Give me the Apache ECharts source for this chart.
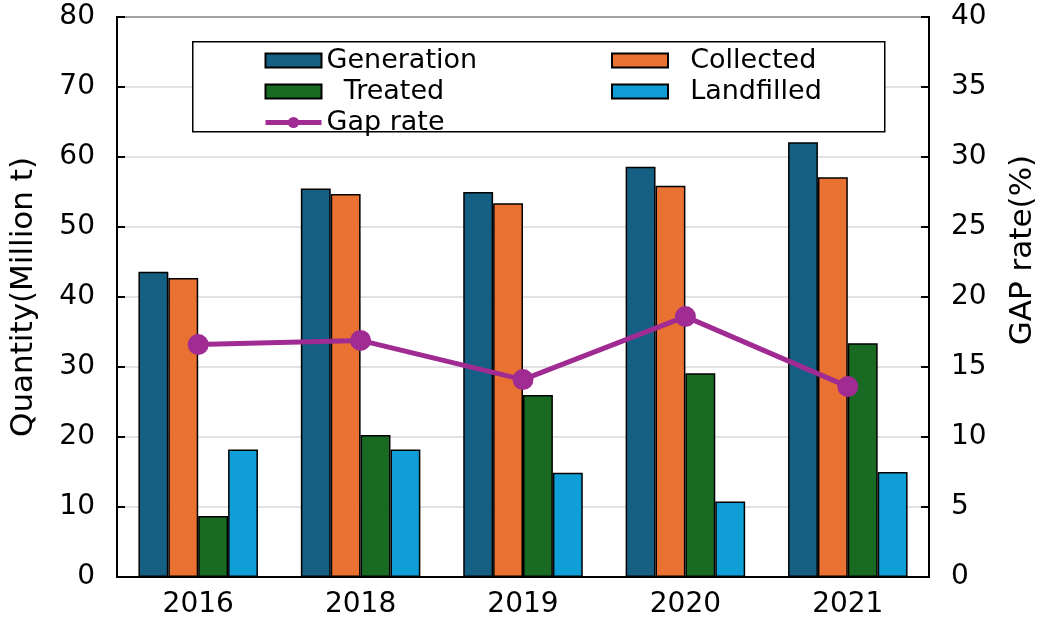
<!DOCTYPE html>
<html>
<head>
<meta charset="utf-8">
<script src="https://cdn.jsdelivr.net/npm/echarts@6/dist/echarts.min.js"></script>
<style>
  html, body { margin: 0; padding: 0; background: #fff; }
  #chart { width: 1046px; height: 620px; }
</style>
</head>
<body>
<div id="chart"></div>
<script>
// Datos
const years = ["2016", "2018", "2019", "2020", "2021"];
const generation = [43.6, 55.5, 55.0, 58.6, 62.1];
const collected = [42.7, 54.7, 53.4, 55.9, 57.1];
const treated = [8.7, 20.3, 26.0, 29.1, 33.4];
const landfilled = [18.2, 18.2, 14.9, 10.8, 15.0];
const gapRate = [16.6, 16.9, 14.1, 18.6, 13.6];

const FONT = "'DejaVu Sans', 'Noto Sans CJK JP', sans-serif";

const chart = echarts.init(document.getElementById("chart"));

function barSeries(name, data, color) {
  return {
    name: name,
    type: "bar",
    data: data,
    barWidth: "18.4%",
    barGap: "0%",
    itemStyle: { color: color, borderColor: "#000", borderWidth: 1.5 },
  };
}

const legendText = { color: "#000", fontSize: 27, fontFamily: FONT, lineHeight: 26 };

const option = {
  animation: false,
  backgroundColor: "#fff",
  grid: {
    left: 108, right: 95, top: 17, bottom: 43,
    show: true, borderColor: "#000", borderWidth: 2,
  },
  graphic: [
    {
      type: "rect",
      left: 192, top: 41,
      shape: { width: 692, height: 90 },
      style: { fill: "#fff", stroke: "#000", lineWidth: 1.5 },
      z: 10,
    },
  ],
  legend: [
    {
      orient: "vertical",
      left: 258, top: 42,
      itemWidth: 56, itemHeight: 14, itemGap: 4,
      data: [
        { name: "Generation", icon: "rect" },
        { name: "Treated", icon: "rect" },
        { name: "Gap rate", lineStyle: { width: 5 } },
      ],
      textStyle: legendText,
      formatter: function (name) {
        return name === "Treated" ? "  " + name : name;
      },
      z: 20,
    },
    {
      orient: "vertical",
      left: 606, top: 42,
      itemWidth: 56, itemHeight: 14, itemGap: 4,
      data: [
        { name: "Collected", icon: "rect" },
        { name: "Landfilled", icon: "rect" },
      ],
      textStyle: legendText,
      formatter: function (name) { return "  " + name; },
      z: 20,
    },
  ],
  xAxis: {
    type: "category",
    data: years,
    axisLine: { lineStyle: { color: "#000", width: 2 } },
    axisTick: { show: false },
    axisLabel: { color: "#000", fontSize: 28, fontFamily: FONT, margin: 14 },
  },
  yAxis: [
    {
      type: "value",
      min: 0, max: 80, interval: 10,
      name: "Quantity(Million t)",
      nameLocation: "middle",
      nameGap: 78,
      nameTextStyle: { color: "#000", fontSize: 31, fontFamily: FONT },
      axisLine: { show: true, lineStyle: { color: "#000", width: 2 } },
      axisTick: { show: true, inside: true, length: 8, lineStyle: { color: "#000", width: 2 } },
      axisLabel: { color: "#000", fontSize: 28, fontFamily: FONT, margin: 22 },
      splitLine: { lineStyle: { color: "#d9d9d9", width: 1.5 } },
    },
    {
      type: "value",
      min: 0, max: 40, interval: 5,
      name: "GAP rate(%)",
      nameLocation: "middle",
      nameGap: 78,
      nameRotate: 90,
      nameTextStyle: { color: "#000", fontSize: 31, fontFamily: FONT, padding: [0, 0, 0, 94] },
      axisLine: { show: true, lineStyle: { color: "#000", width: 2 } },
      axisTick: { show: true, inside: true, length: 8, lineStyle: { color: "#000", width: 2 } },
      axisLabel: { color: "#000", fontSize: 28, fontFamily: FONT, margin: 22 },
      splitLine: { show: false },
    },
  ],
  series: [
    barSeries("Generation", generation, "#156082"),
    barSeries("Collected", collected, "#E97132"),
    barSeries("Treated", treated, "#196B24"),
    barSeries("Landfilled", landfilled, "#0F9ED5"),
    {
      name: "Gap rate",
      type: "line",
      yAxisIndex: 1,
      data: gapRate,
      symbol: "circle",
      symbolSize: 21,
      lineStyle: { color: "#A02B93", width: 5 },
      itemStyle: { color: "#A02B93" },
      z: 5,
    },
  ],
};

chart.setOption(option);
</script>
</body>
</html>
